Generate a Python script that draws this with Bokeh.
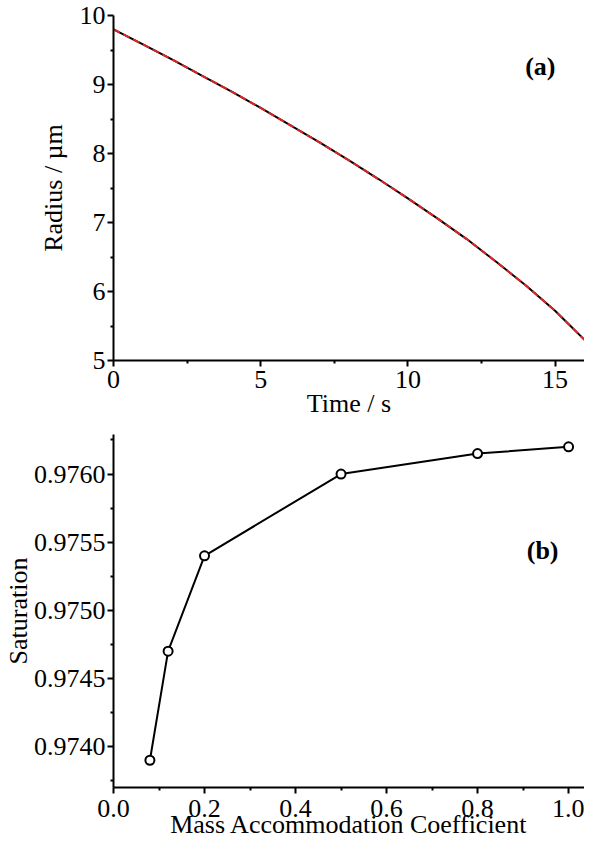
from bokeh.plotting import figure
from bokeh.layouts import column
from bokeh.models import FixedTicker, PrintfTickFormatter, Range1d, Label
from bokeh.embed import file_html
from bokeh.resources import INLINE

# ---- data (a) ----
time_s = [0, 1, 2, 3, 4, 5, 6, 7, 8, 9, 10, 11, 12, 13, 14, 15, 15.5, 16]
radius_model = [9.80, 9.58, 9.36, 9.13, 8.90, 8.66, 8.41, 8.16, 7.90, 7.63,
                7.35, 7.06, 6.76, 6.43, 6.09, 5.72, 5.51, 5.30]
radius_fit = [9.80, 9.58, 9.36, 9.13, 8.90, 8.66, 8.41, 8.16, 7.90, 7.63,
              7.35, 7.06, 6.76, 6.43, 6.09, 5.72, 5.51, 5.30]
x_ticks_a = [0, 5, 10, 15]
y_ticks_a = [5, 6, 7, 8, 9, 10]

# ---- data (b) ----
mac = [0.08, 0.12, 0.2, 0.5, 0.8, 1.0]
saturation = [0.9739, 0.9747, 0.9754, 0.9760, 0.97615, 0.9762]
x_ticks_b = [0.0, 0.2, 0.4, 0.6, 0.8, 1.0]
y_ticks_b = [0.9740, 0.9745, 0.9750, 0.9755, 0.9760]

FONT = "Liberation Serif"
FS = "26px"


def style_axes(p):
    for ax in (p.xaxis[0], p.yaxis[0]):
        ax.axis_line_width = 2
        ax.axis_line_color = "black"
        ax.major_tick_line_color = "black"
        ax.minor_tick_line_color = "black"
        ax.major_tick_line_width = 2
        ax.minor_tick_line_width = 2
        ax.major_tick_in = 0
        ax.major_tick_out = 6
        ax.minor_tick_in = 0
        ax.minor_tick_out = 3
        ax.major_label_text_font = FONT
        ax.major_label_text_font_size = FS
        ax.major_label_text_color = "black"
        ax.axis_label_text_font = FONT
        ax.axis_label_text_font_size = FS
        ax.axis_label_text_font_style = "normal"
        ax.axis_label_text_color = "black"
        ax.major_label_standoff = 2
    p.xgrid.visible = False
    p.ygrid.visible = False
    p.outline_line_color = None


# ---- panel (a) ----
p1 = figure(width=584, height=420, output_backend="svg", toolbar_location=None,
            x_range=Range1d(0, 16), y_range=Range1d(5, 10),
            min_border_left=108, min_border_right=0, min_border_top=15,
            min_border_bottom=50)
p1.line(time_s, radius_model, line_color="black", line_width=2)
p1.line(time_s, radius_fit, line_color="#e02424", line_width=2, line_dash="7 4")
p1.xaxis.axis_label = "Time / s"
p1.yaxis.axis_label = "Radius / µm"
p1.xaxis.ticker = FixedTicker(ticks=x_ticks_a, minor_ticks=[2.5, 7.5, 12.5])
p1.yaxis.ticker = FixedTicker(ticks=y_ticks_a, minor_ticks=[5.5, 6.5, 7.5, 8.5, 9.5])
style_axes(p1)
p1.xaxis.major_label_standoff = 4
p1.xaxis.axis_label_standoff = -2
p1.yaxis.axis_label_standoff = 9
p1.add_layout(Label(x=14.5, y=9.26, text="(a)", text_font=FONT, text_font_size=FS,
                    text_font_style="bold", text_color="black",
                    text_align="center", text_baseline="middle"))

# ---- panel (b) ----
p2 = figure(width=584, height=421, output_backend="svg", toolbar_location=None,
            x_range=Range1d(0, 1.035), y_range=Range1d(0.9737, 0.97629),
            min_border_left=108, min_border_right=0, min_border_top=14,
            min_border_bottom=50)
p2.line(mac, saturation, line_color="black", line_width=2)
p2.scatter(mac, saturation, size=9, marker="circle", line_color="black",
           line_width=2, fill_color="white")
p2.xaxis.axis_label = "Mass Accommodation Coefficient"
p2.yaxis.axis_label = "Saturation"
p2.xaxis.ticker = FixedTicker(ticks=x_ticks_b, minor_ticks=[0.1, 0.3, 0.5, 0.7, 0.9])
p2.yaxis.ticker = FixedTicker(ticks=y_ticks_b,
                              minor_ticks=[0.97375, 0.97425, 0.97475, 0.97525, 0.97575, 0.97625])
p2.xaxis.formatter = PrintfTickFormatter(format="%.1f")
p2.yaxis.formatter = PrintfTickFormatter(format="%.4f")
style_axes(p2)
p2.xaxis.major_label_standoff = 6
p2.xaxis.axis_label_standoff = -10
p2.yaxis.axis_label_standoff = -2
p2.add_layout(Label(x=0.943, y=0.97544, text="(b)", text_font=FONT, text_font_size=FS,
                    text_font_style="bold", text_color="black",
                    text_align="center", text_baseline="middle"))

layout = column(p1, p2, spacing=0)
open("out.html", "w").write(file_html(layout, INLINE))
